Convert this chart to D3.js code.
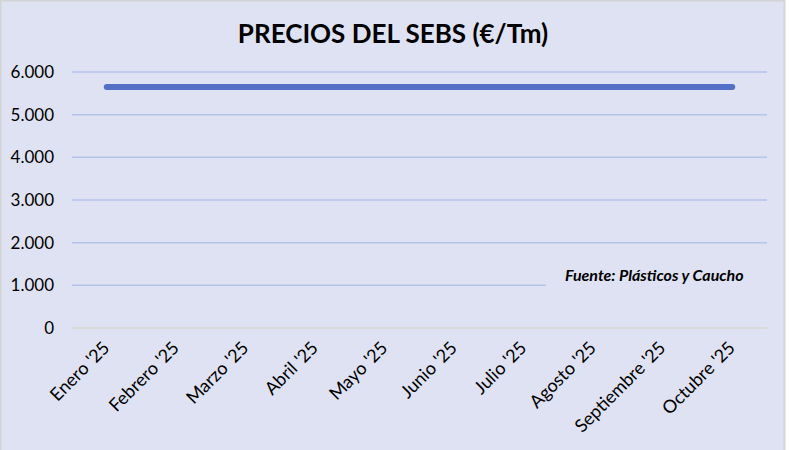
<!DOCTYPE html>
<html>
<head>
<meta charset="utf-8">
<script src="https://cdn.jsdelivr.net/npm/d3@7"></script>
<style>
body{margin:0;padding:0;background:#fff;}
#canvas{width:789px;height:450px;}
text{font-family:Lato,"Open Sans",sans-serif;}
</style>
</head>
<body>
<div id="canvas"></div>
<script>
var width = 789;
var height = 450;

// datos
var meses = ["Enero '25","Febrero '25","Marzo '25","Abril '25","Mayo '25","Junio '25","Julio '25","Agosto '25","Septiembre '25","Octubre '25"];
var precios = [5650,5650,5650,5650,5650,5650,5650,5650,5650,5650];
var ticksY = [0,1000,2000,3000,4000,5000,6000];

var svg = d3.select("#canvas").append("svg")
	.attr("width",width)
	.attr("height",height);

// fondo
svg.append("rect")
	.attr("x",0.5).attr("y",0.5)
	.attr("width",784).attr("height",height+2)
	.attr("fill","#dee2f2")
	.attr("stroke","#d4d4d4")
	.attr("stroke-width",2);

var x = d3.scalePoint().domain(meses).range([72,767]).padding(0.5);
var y = d3.scaleLinear().domain([0,6000]).range([328,72]);

// rejilla
var grid = svg.append("g");
grid.selectAll("line").data(ticksY).enter().append("line")
	.attr("x1",72).attr("x2",767)
	.attr("y1",function(d){return y(d);})
	.attr("y2",function(d){return y(d);})
	.attr("stroke",function(d){return d==0 ? "#d9d6d0" : "#b3c3ea";})
	.attr("stroke-width",1.5);

// eje y
var fmt = function(d){ return d==0 ? "0" : d3.format(",")(d).replace(/,/g,"."); };
svg.append("g").selectAll("text").data(ticksY).enter().append("text")
	.attr("x",54)
	.attr("y",function(d){return y(d);})
	.attr("dy","0.36em")
	.attr("text-anchor","end")
	.attr("font-size","17px")
	.attr("fill","#000")
	.text(fmt);

// eje x
svg.append("g").selectAll("text").data(meses).enter().append("text")
	.attr("text-anchor","end")
	.attr("font-size","18px")
	.attr("fill","#000")
	.attr("transform",function(d){return "translate("+(x(d)+4)+",349) rotate(-45)";})
	.text(function(d){return d;});

// linea
var line = d3.line()
	.x(function(d,i){return x(meses[i]);})
	.y(function(d){return y(d);});
svg.append("path")
	.datum(precios)
	.attr("d",line)
	.attr("fill","none")
	.attr("stroke","#5470c6")
	.attr("stroke-width",6)
	.attr("stroke-linecap","round")
	.attr("stroke-linejoin","round");

// titulo
svg.append("text")
	.attr("x",393).attr("y",43)
	.attr("text-anchor","middle")
	.attr("font-size","26px")
	.attr("font-weight","bold")
	.attr("fill","#000")
	.text("PRECIOS DEL SEBS (€/Tm)");

// fuente
svg.append("rect")
	.attr("x",546).attr("y",258)
	.attr("width",222).attr("height",40)
	.attr("fill","#dee2f2");
svg.append("text")
	.attr("x",565).attr("y",281)
	.attr("font-size","16px")
	.attr("font-weight","bold")
	.attr("font-style","italic")
	.attr("fill","#000")
	.text("Fuente: Plásticos y Caucho");
</script>
</body>
</html>
